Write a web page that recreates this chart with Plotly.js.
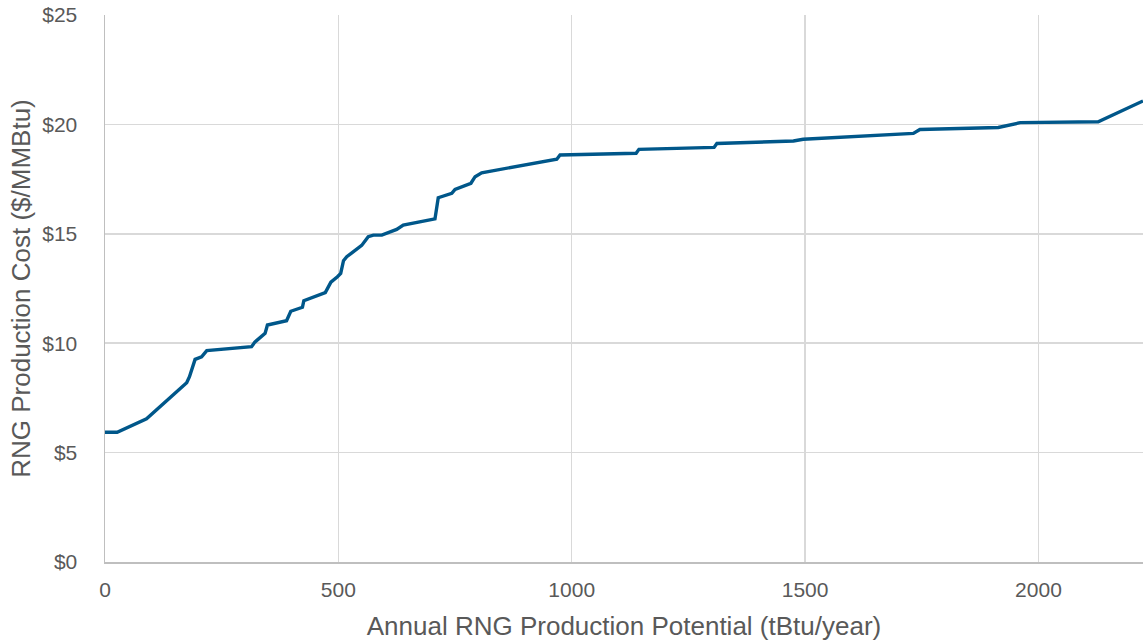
<!DOCTYPE html>
<html>
<head>
<meta charset="utf-8">
<script src="https://cdn.plot.ly/plotly-3.0.1.min.js"></script>
<style>html,body{margin:0;padding:0;background:#fff}#chart{width:1143px;height:644px}</style>
</head>
<body>
<div id="chart"></div>
<script>
var potential = [0, 26, 89, 175, 181, 193, 207, 218, 314, 321, 343, 348, 389, 398, 423, 426, 472, 484, 498, 505, 511, 518, 550, 564, 575, 593, 625, 639, 707, 714, 743, 750, 784, 793, 807, 968, 975, 1138, 1144, 1305, 1311, 1475, 1496, 1732, 1746, 1914, 1961, 2128, 2224];
var cost = [5.93, 5.93, 6.55, 8.19, 8.47, 9.26, 9.38, 9.66, 9.84, 10.05, 10.45, 10.83, 11.03, 11.46, 11.64, 11.94, 12.31, 12.79, 13.04, 13.19, 13.77, 13.95, 14.47, 14.87, 14.94, 14.94, 15.2, 15.4, 15.68, 16.65, 16.85, 17.03, 17.31, 17.61, 17.79, 18.41, 18.6, 18.68, 18.86, 18.95, 19.13, 19.24, 19.32, 19.59, 19.77, 19.86, 20.08, 20.12, 21.07];
var xTicks = [0, 500, 1000, 1500, 2000];
var yTicks = [0, 5, 10, 15, 20, 25];

var fam = '"Liberation Sans", Arial, sans-serif';
var grey = '#595959';
Plotly.newPlot('chart', [{
  x: potential, y: cost, type: 'scatter', mode: 'lines',
  line: {color: '#00578A', width: 3.4}, hoverinfo: 'skip'
}], {
  width: 1143, height: 644,
  margin: {l: 105, r: 0, t: 15, b: 82},
  paper_bgcolor: '#fff', plot_bgcolor: '#fff',
  showlegend: false,
  font: {family: fam, color: grey},
  xaxis: {
    range: [0, 2224], tickvals: xTicks, ticktext: xTicks.map(String),
    showgrid: true, gridcolor: '#d9d9d9', gridwidth: 1.5,
    showline: true, linecolor: '#bfbfbf', linewidth: 1.5,
    zeroline: false, ticks: '', ticklabelstandoff: 8,
    tickfont: {family: fam, color: grey, size: 21},
    title: {text: 'Annual RNG Production Potential (tBtu/year)', font: {family: fam, color: grey, size: 26}, standoff: 17}
  },
  yaxis: {
    range: [0, 25], tickvals: yTicks, ticktext: yTicks.map(function(v){return '$' + v;}),
    showgrid: true, gridcolor: '#d9d9d9', gridwidth: 1.5,
    showline: true, linecolor: '#bfbfbf', linewidth: 1.5,
    zeroline: false, ticks: '', ticklabelstandoff: 22,
    tickfont: {family: fam, color: grey, size: 21},
    title: {text: 'RNG Production Cost ($/MMBtu)', font: {family: fam, color: grey, size: 26}, standoff: 4}
  }
}, {staticPlot: true, displayModeBar: false});
</script>
</body>
</html>
